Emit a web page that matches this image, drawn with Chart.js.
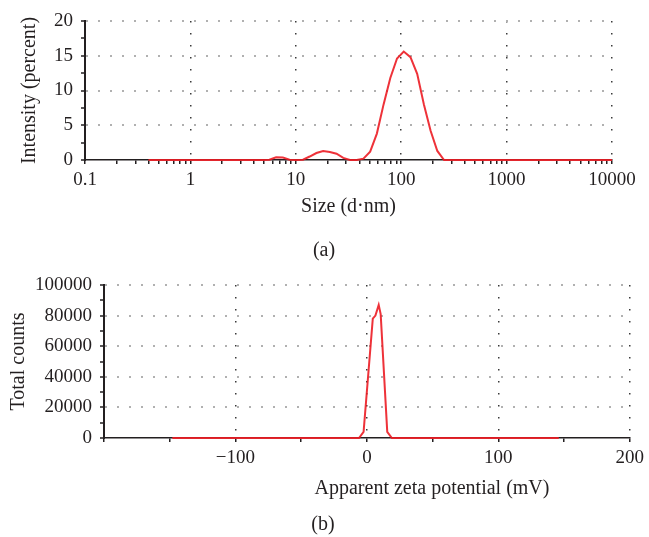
<!DOCTYPE html>
<html>
<head>
<meta charset="utf-8">
<script src="https://cdn.jsdelivr.net/npm/chart.js@4.4.1/dist/chart.umd.min.js"></script>
<style>
  html, body { margin: 0; padding: 0; background: #fff; }
  body { width: 649px; height: 537px; position: relative; overflow: hidden;
         font-family: "Liberation Serif", "Times New Roman", serif; color: #231f20; }
  .box { position: absolute; left: 0; width: 649px; }
  #wrap-a { top: 0; height: 230px; }
  #wrap-b { top: 260px; height: 240px; }
  .lbl { position: absolute; font-size: 20px; white-space: nowrap; transform: translate(-50%, -50%); }
</style>
</head>
<body>
<div class="box" id="wrap-a"><canvas id="chart-size" width="649" height="230"></canvas></div>
<div class="box" id="wrap-b"><canvas id="chart-zeta" width="649" height="240"></canvas></div>
<div class="lbl" style="left:432px; top:487px">Apparent zeta potential (mV)</div>
<div class="lbl" style="left:324px; top:249px">(a)</div>
<div class="lbl" style="left:323px; top:523px">(b)</div>

<script>
/* ===================== DATA (a) size distribution ===================== */
const sizeNm = [0.4, 4.849, 5.615, 6.503, 7.531, 8.721, 10.1, 11.7, 13.54, 15.69, 18.17, 21.04, 24.36, 28.21,
  32.67, 37.84, 43.82, 50.75, 58.77, 68.06, 78.82, 91.28, 105.7, 122.4, 141.8, 164.2, 190.1, 220.2, 255.0, 10000];
const intensityPct = [0, 0, 0.05, 0.4, 0.35, 0.05, 0, 0.05, 0.5, 1.0, 1.3, 1.15, 0.9, 0.3,
  0, 0, 0.2, 1.2, 3.8, 8.0, 11.8, 14.6, 15.6, 14.8, 12.4, 8.0, 4.2, 1.3, 0, 0];
const sizeTickLabels = [0.1, 1, 10, 100, 1000, 10000];
const intensityTickLabels = [0, 5, 10, 15, 20];

/* ===================== DATA (b) zeta potential ===================== */
const zetaMv = [-148, -6, -2.5, 4.5, 6.5, 9, 10.5, 15.5, 19, 146];
const totalCounts = [0, 0, 4000, 78000, 80000, 87000, 81000, 4000, 0, 0];
const zetaTickLabels = [-100, 0, 100, 200];
const countTickLabels = [0, 20000, 40000, 60000, 80000, 100000];

/* ===================== STYLE ===================== */
const INK = '#231f20';
const RED = 'rgba(236, 28, 36, 0.9)';
const TICK_FONT = { family: '"Liberation Serif", "Times New Roman", serif', size: 19 };
const TITLE_FONT = { family: '"Liberation Serif", "Times New Roman", serif', size: 20 };
const H_DOTS = '#b0b0b0';
const V_DOTS = '#3a3a3a';

// 1..9 x 10^n between the decade labels
let logMinorTicks = (decades) => {
  let out = [];
  for (let i = 0; i < decades.length - 1; i++) {
    for (let m = 1; m < 10; m++) out.push(decades[i] * m);
  }
  out.push(decades[decades.length - 1]);
  return out;
};

let minus = v => v < 0 ? '\u2212' + (-v) : String(v);

let base = (padding) => ({
  responsive: false,
  animation: false,
  layout: { padding },
  plugins: { legend: { display: false }, tooltip: { enabled: false } }
});

/* ===================== CHART (a) ===================== */
new Chart(document.getElementById('chart-size'), {
  type: 'line',
  data: {
    datasets: [{
      data: sizeNm.map((x, i) => ({ x, y: intensityPct[i] })),
      borderColor: RED, borderWidth: 2, pointRadius: 0, tension: 0, clip: false
    }]
  },
  options: {
    ...base({ top: 21, right: 37, left: 0, bottom: 0 }),
    scales: {
      x: {
        type: 'logarithmic', min: 0.1, max: 10000,
        afterBuildTicks: s => { s.ticks = logMinorTicks(sizeTickLabels).map(v => ({ value: v })); },
        afterFit: s => { s.height = 70; },
        ticks: {
          autoSkip: false, maxRotation: 0, padding: 5, color: INK, font: TICK_FONT,
          callback: v => sizeTickLabels.includes(v) ? String(v) : ''
        },
        grid: {
          color: c => (c.tick && c.tick.value !== 0.1 && sizeTickLabels.includes(c.tick.value)) ? V_DOTS : 'transparent',
          lineWidth: 1.5, tickLength: 4, tickColor: INK, tickWidth: 1.5
        },
        border: { color: INK, width: 1.5, dash: [1.5, 10.5] },
        title: { display: true, text: 'Size (d·nm)', color: INK, font: TITLE_FONT, padding: { top: 0, bottom: 11 } }
      },
      y: {
        min: 0, max: 20,
        afterFit: s => { s.width = 85; },
        ticks: {
          stepSize: 2.5, autoSkip: false, padding: 8, color: INK, font: TICK_FONT,
          callback: v => intensityTickLabels.includes(v) ? String(v) : ''
        },
        grid: {
          color: c => (c.tick && c.tick.value !== 0 && intensityTickLabels.includes(c.tick.value)) ? H_DOTS : 'transparent',
          lineWidth: 2, tickLength: 4, tickColor: INK, tickWidth: 1.5
        },
        border: { color: INK, width: 2, dash: [2, 10] },
        title: { display: true, text: 'Intensity (percent)', color: INK, font: TITLE_FONT, padding: { top: 18, bottom: 0 } }
      }
    }
  }
});

/* ===================== CHART (b) ===================== */
new Chart(document.getElementById('chart-zeta'), {
  type: 'line',
  data: {
    datasets: [{
      data: zetaMv.map((x, i) => ({ x, y: totalCounts[i] })),
      borderColor: RED, borderWidth: 2, pointRadius: 0, tension: 0, clip: false
    }]
  },
  options: {
    ...base({ top: 25, right: 18, left: 0, bottom: 0 }),
    scales: {
      x: {
        type: 'linear', min: -200, max: 200,
        afterFit: s => { s.height = 62; },
        ticks: {
          stepSize: 50, autoSkip: false, maxRotation: 0, padding: 5, color: INK, font: TICK_FONT,
          callback: v => zetaTickLabels.includes(v) ? minus(v) : ''
        },
        grid: {
          color: c => (c.tick && zetaTickLabels.includes(c.tick.value)) ? V_DOTS : 'transparent',
          lineWidth: 1.5, tickLength: 4, tickColor: INK, tickWidth: 1.5
        },
        border: { color: INK, width: 1.5, dash: [1.5, 10.5] }
      },
      y: {
        min: 0, max: 100000,
        afterFit: s => { s.width = 104; },
        ticks: {
          stepSize: 10000, autoSkip: false, padding: 8, color: INK, font: TICK_FONT,
          callback: v => countTickLabels.includes(v) ? String(v) : ''
        },
        grid: {
          color: c => (c.tick && c.tick.value !== 0 && countTickLabels.includes(c.tick.value)) ? H_DOTS : 'transparent',
          lineWidth: 2, tickLength: 4, tickColor: INK, tickWidth: 1.5
        },
        border: { color: INK, width: 2, dash: [2, 10] },
        title: { display: true, text: 'Total counts', color: INK, font: TITLE_FONT, padding: { top: 7, bottom: 0 } }
      }
    }
  }
});
</script>
</body>
</html>
